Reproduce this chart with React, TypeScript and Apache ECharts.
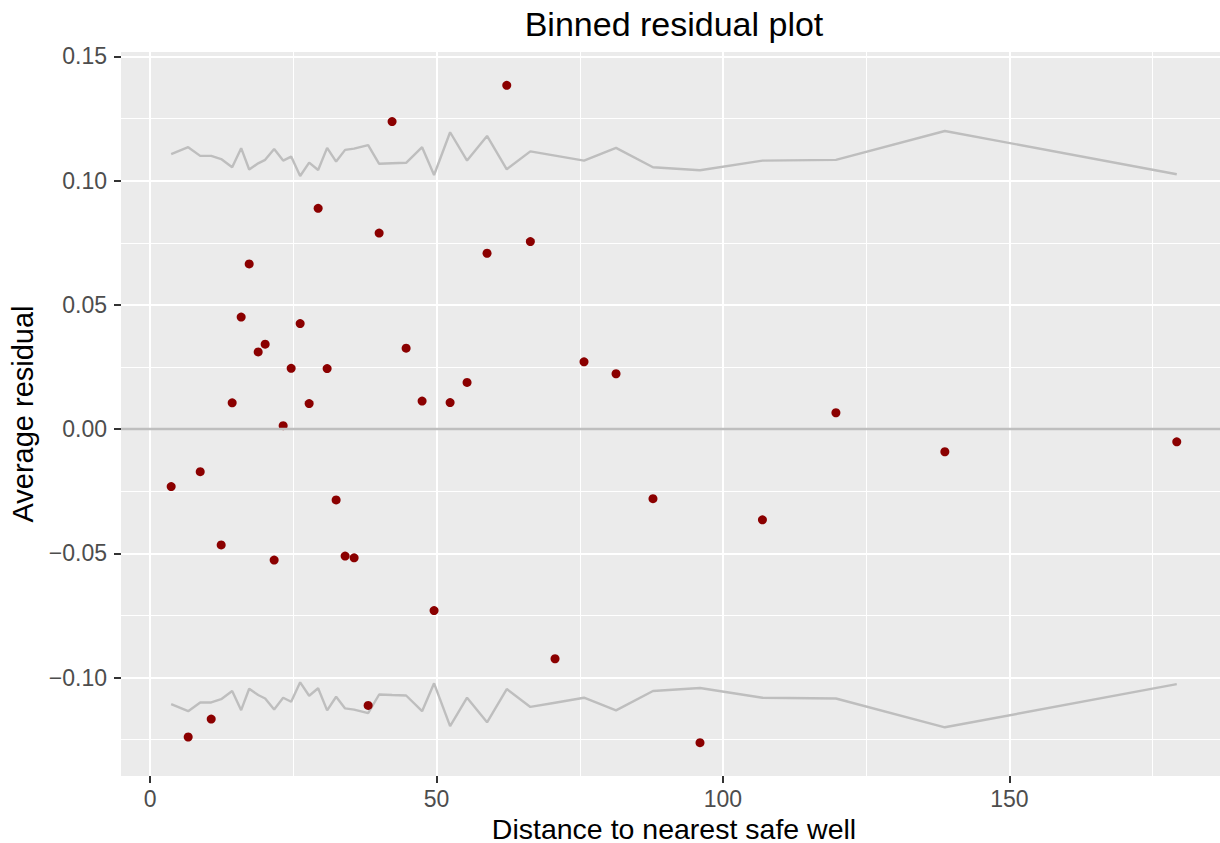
import React, { useEffect, useRef } from "react";
import * as echarts from "echarts";

// Bin means of distance (x) and average residual (y), plus 2*SE bounds
const binDistance = [
  3.66, 6.63, 8.73, 10.65, 12.39, 14.31, 15.88, 17.28, 18.85, 20.07,
  21.64, 23.21, 24.61, 26.18, 27.75, 29.32, 30.89, 32.46, 34.03, 35.6,
  38.05, 39.97, 42.23, 44.68, 47.47, 49.56, 52.36, 55.32, 58.81, 62.25,
  66.37, 70.68, 75.74, 81.33, 87.78, 95.99, 106.89, 119.72, 138.74, 179.23,
];
const avgResidual = [
  -0.0231, -0.1239, -0.0171, -0.1167, -0.0466, 0.0106, 0.0451, 0.0665, 0.0311, 0.0342,
  -0.0527, 0.0014, 0.0245, 0.0425, 0.0103, 0.0889, 0.0244, -0.0285, -0.0511, -0.0518,
  -0.1112, 0.0789, 0.1238, 0.0326, 0.0113, -0.073, 0.0107, 0.0188, 0.0708, 0.1384,
  0.0755, -0.0924, 0.0271, 0.0223, -0.028, -0.1262, -0.0365, 0.0066, -0.0091, -0.0051,
];
const twoSE = [
  0.1107, 0.1135, 0.11, 0.11, 0.1087, 0.1054, 0.1131, 0.1045, 0.107, 0.1084,
  0.1128, 0.1081, 0.1097, 0.1019, 0.1073, 0.1043, 0.1132, 0.1077, 0.1124, 0.1129,
  0.1143, 0.1068, 0.107, 0.1072, 0.1135, 0.1023, 0.1195, 0.1081, 0.118, 0.1046,
  0.1118, 0.1101, 0.1081, 0.1132, 0.1054, 0.1042, 0.1081, 0.1084, 0.12, 0.1026,
];
const xTicks = [0, 50, 100, 150];
const yTicks = [-0.1, -0.05, 0, 0.05, 0.1, 0.15];

const FONT = "'Liberation Sans', Arial, Helvetica, sans-serif";

export default function App() {
  const ref = useRef<HTMLDivElement>(null);

  useEffect(() => {
    if (!ref.current) return;
    const chart = echarts.init(ref.current, null, { renderer: "svg" });

    const points = binDistance.map((x, i) => [x, avgResidual[i]]);
    const upper = binDistance.map((x, i) => [x, twoSE[i]]);
    const lower = binDistance.map((x, i) => [x, -twoSE[i]]);

    const option: any = {
      animation: false,
      backgroundColor: "#FFFFFF",
      textStyle: { fontFamily: FONT },
      title: {
        text: "Binned residual plot",
        left: 674,
        top: 6.5,
        padding: 0,
        textAlign: "center",
        textStyle: { fontSize: 34, fontWeight: "normal", color: "#000000", fontFamily: FONT },
      },
      grid: {
        left: 121,
        top: 52,
        width: 1106,
        height: 724,
        show: true,
        backgroundColor: "#EBEBEB",
        borderWidth: 0,
        containLabel: false,
        outerBoundsMode: "none",
      },
      xAxis: {
        type: "value",
        position: "bottom",
        min: -5.1,
        max: 188.0,
        minInterval: 50,
        maxInterval: 50,
        name: "Distance to nearest safe well",
        nameLocation: "middle",
        nameGap: 41,
        nameTextStyle: { fontSize: 28.5, lineHeight: 21, color: "#000000", fontFamily: FONT },
        axisLine: { show: false, onZero: false },
        axisTick: { show: true, length: 7, customValues: xTicks, lineStyle: { color: "#333333", width: 2 } },
        axisLabel: {
          customValues: xTicks,
          margin: 11,
          fontSize: 23,
          color: "#4D4D4D",
          fontFamily: FONT,
          formatter: (v: number) => String(v),
        },
        splitLine: { show: true, lineStyle: { color: "#FFFFFF", width: 2 } },
        minorTick: { show: false, splitNumber: 2 },
        minorSplitLine: { show: true, lineStyle: { color: "#FFFFFF", width: 1 } },
      },
      yAxis: {
        type: "value",
        position: "left",
        min: -0.1396,
        max: 0.1518,
        minInterval: 0.05,
        maxInterval: 0.05,
        name: "Average residual",
        nameLocation: "middle",
        nameGap: 80,
        nameRotate: 90,
        nameTextStyle: { fontSize: 29, color: "#000000", fontFamily: FONT },
        axisLine: { show: false, onZero: false },
        axisTick: { show: true, length: 7, customValues: yTicks, lineStyle: { color: "#333333", width: 2 } },
        axisLabel: {
          customValues: yTicks,
          margin: 14,
          fontSize: 23,
          color: "#4D4D4D",
          fontFamily: FONT,
          formatter: (v: number) => v.toFixed(2).replace("-", "\u2212"),
        },
        splitLine: { show: true, lineStyle: { color: "#FFFFFF", width: 2 } },
        minorTick: { show: false, splitNumber: 2 },
        minorSplitLine: { show: true, lineStyle: { color: "#FFFFFF", width: 1 } },
      },
      series: [
        {
          type: "line",
          data: upper,
          showSymbol: false,
          symbol: "none",
          lineStyle: { color: "#BEBEBE", width: 2.4 },
          silent: true,
          z: 2,
          markLine: {
            silent: true,
            symbol: "none",
            label: { show: false },
            lineStyle: { color: "#BEBEBE", width: 2.4, type: "solid" },
            data: [{ yAxis: 0 }],
          },
        },
        {
          type: "line",
          data: lower,
          showSymbol: false,
          symbol: "none",
          lineStyle: { color: "#BEBEBE", width: 2.4 },
          silent: true,
          z: 2,
        },
        {
          type: "scatter",
          data: points,
          symbol: "circle",
          symbolSize: 9,
          itemStyle: { color: "#8B0000", opacity: 1 },
          z: 3,
        },
      ],
    };

    chart.setOption(option);
    return () => {
      chart.dispose();
    };
  }, []);

  return (
    <div
      ref={ref}
      style={{ position: "fixed", left: 0, top: 0, width: 1220, height: 843, overflow: "hidden" }}
    />
  );
}
